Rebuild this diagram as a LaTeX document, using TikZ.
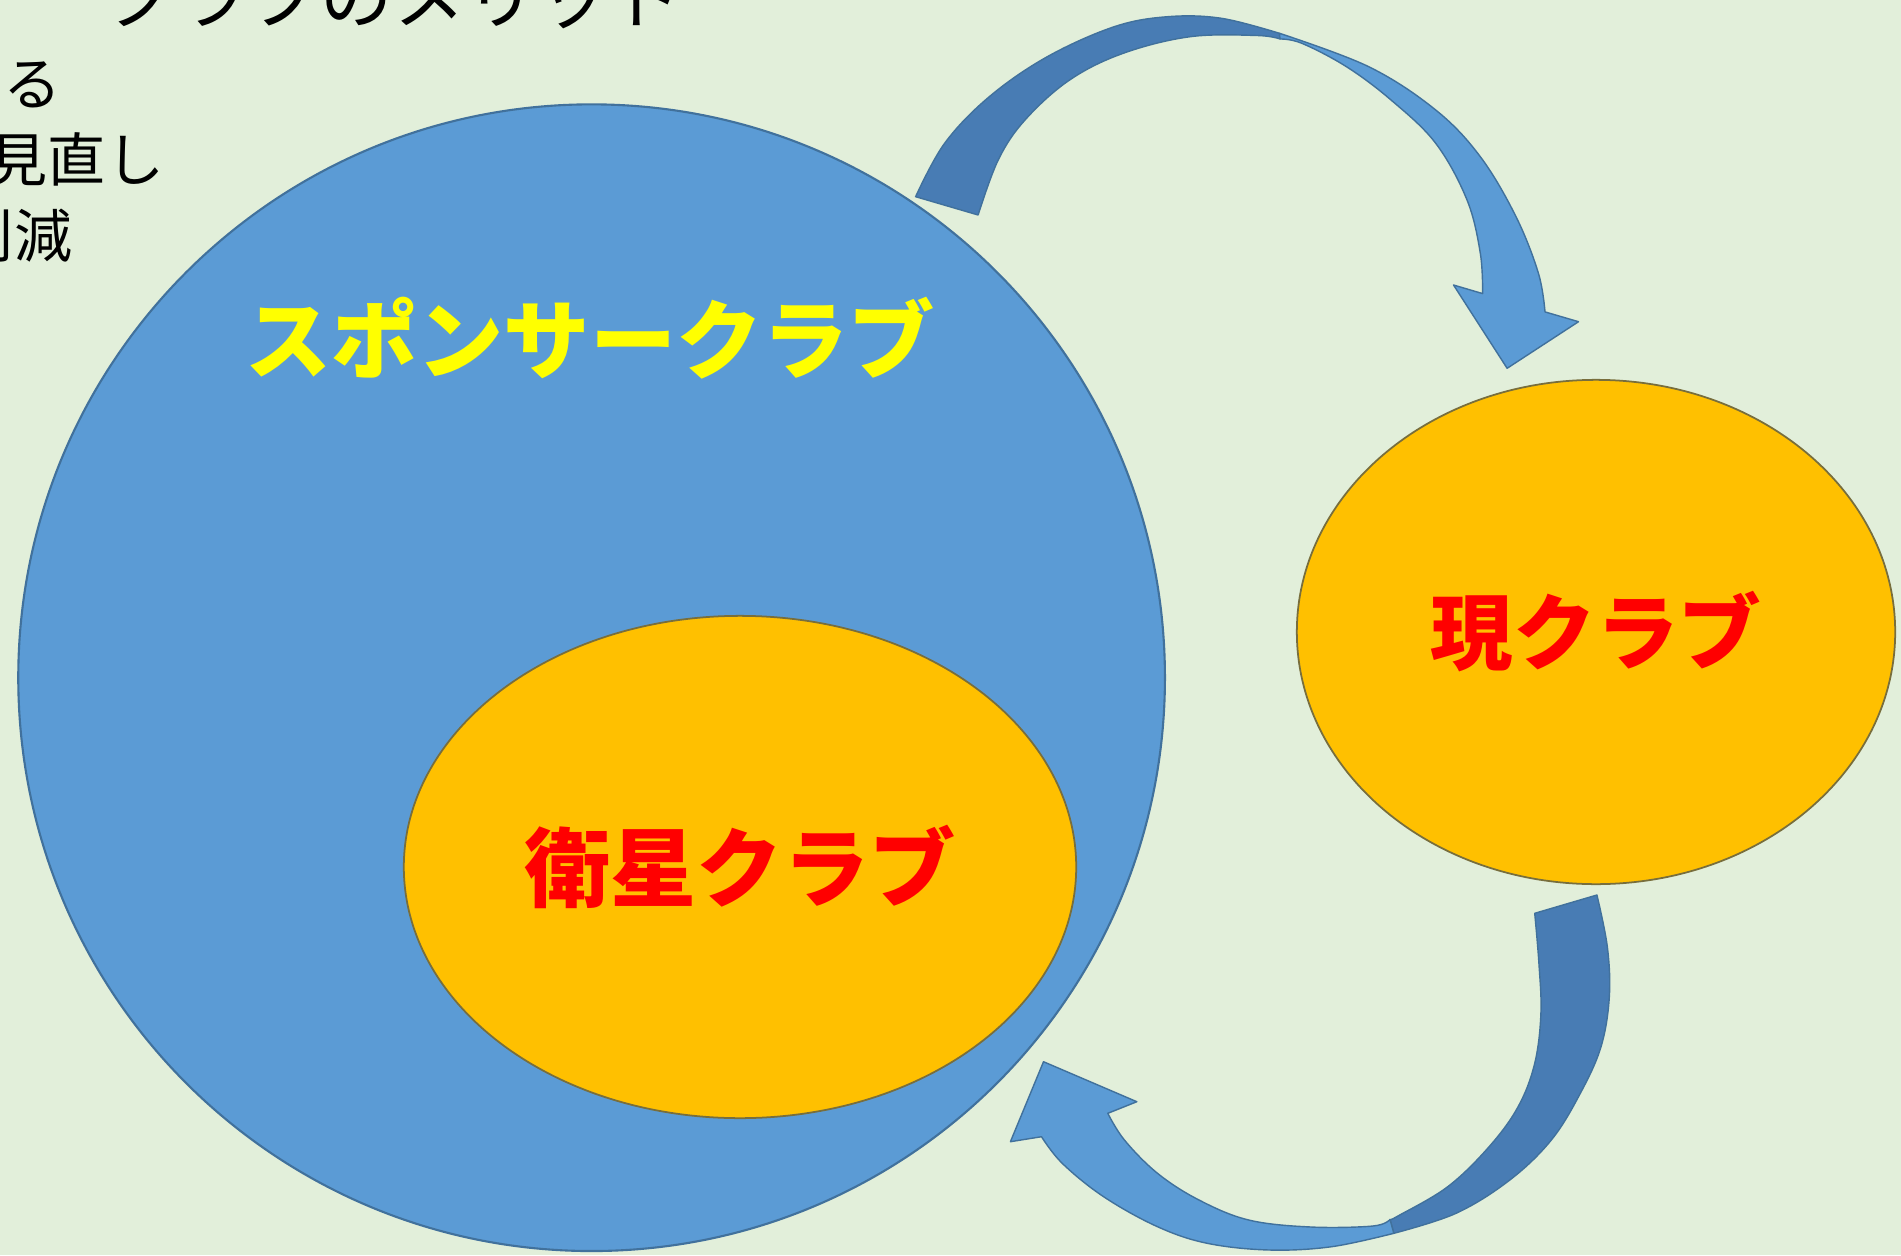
\documentclass[tikz,border=0pt]{standalone}
\usepackage{fontspec}
\newfontfamily\jp{Noto Sans CJK JP}
\usetikzlibrary{shapes.geometric}
\definecolor{bgc}{RGB}{226,239,218}
\definecolor{blueL}{RGB}{91,155,213}
\definecolor{blueD}{RGB}{72,124,180}
\definecolor{blueLine}{RGB}{65,113,156}
\definecolor{orangeF}{RGB}{255,192,0}
\definecolor{orangeLine}{RGB}{120,110,60}
\definecolor{yel}{RGB}{255,255,0}
\definecolor{redT}{RGB}{255,0,0}
\tikzset{
  bigcircle/.style={circle, fill=blueL, draw=blueLine, line width=0.6pt, inner sep=0pt},
  oval/.style={ellipse, fill=orangeF, draw=orangeLine, line width=0.5pt, inner sep=0pt, text=redT},
  bigfont/.style={font=\jp\bfseries\fontsize{24.5}{28}\selectfont},
  yellabel/.style={bigfont, text=yel, inner sep=0pt},
  plain/.style={font=\jp\fontsize{16.5}{20}\selectfont, text=black, inner sep=0pt, anchor=base},
  titletext/.style={font=\jp\fontsize{20.5}{24}\selectfont, text=black, inner sep=0pt, anchor=base},
  arrowD/.style={fill=blueD, draw=blueLine, line width=0.4pt, line join=round},
  arrowL/.style={fill=blueL, draw=blueLine, line width=0.4pt, line join=round}
}
\begin{document}
\begin{tikzpicture}[x=0.01cm, y=-0.01cm]
\useasboundingbox (0,0) rectangle (1901,1255);
\clip (0,0) rectangle (1901,1255);
\fill[bgc] (0,0) rectangle (1901,1255);

% title and left text (partially cut off)
\node[titletext] (title) at (393,24) {クラブのメリット};
\node[plain] (l1) at (33,106) {る};
\node[plain] (l2) at (77,182) {見直し};
\node[plain] (l3) at (14,258) {削減};

% big circle
\node[bigcircle, minimum size=11.46cm] (sponsor) at (591.6,677.7) {};
\node[yellabel] (sponsortext) at (590,338) {スポンサークラブ};

% satellite club
\node[oval, bigfont, minimum width=6.72cm, minimum height=5.02cm] (sat) at (740,867) {衛星クラブ};

% current club
\node[oval, font=\jp\bfseries\fontsize{23.5}{27}\selectfont, minimum width=5.98cm, minimum height=5.04cm] (cur) at (1596,632) {現クラブ};

% top arrow: dark part (tail at the sponsor club)
\path[arrowD] plot[smooth, tension=0.6] coordinates {(915.6,196.7) (944.6,143.3) (989.3,96.7) (1047.3,56.7) (1114.3,26.7) (1167.8,16.7) (1221.4,18.3) (1279.4,33.3)}
  -- plot[smooth, tension=0.6] coordinates {(1280,39) (1257,35.5) (1190.2,36.7) (1123.2,53.3) (1069.6,80) (1025,120) (998.2,160) (978.1,215)} -- cycle;
% top arrow: light part (head at the current club)
\path[arrowL] plot[smooth, tension=0.6] coordinates {(1279.4,33.3) (1368.7,66.7) (1435.7,110) (1480.3,156.7) (1516,216.7) (1538.4,273.3) (1545,311.9)}
  -- (1578.5,321.7) -- (1507.1,368.3) -- (1453.5,285) --
  plot[smooth, tension=0.6] coordinates {(1482.6,293.6) (1480.3,253.3) (1467,200) (1435.7,143.3) (1391,100) (1346.4,66.7) (1301.8,43.3) (1280,39)} -- cycle;

% bottom arrow: dark part (tail at the current club)
\path[arrowD] plot[smooth, tension=0.6] coordinates {(1596.9,895) (1607.3,946.7) (1609.3,996.7) (1601,1046.7) (1580.3,1093.3) (1551.3,1140) (1509.8,1180) (1456,1213.3) (1393.8,1233.3)}
  -- plot[smooth, tension=0.6] coordinates {(1390,1219.5) (1397.9,1216) (1447.7,1186.7) (1489.1,1146.7) (1518.1,1106.7) (1534.7,1063.3) (1540.9,1013.3) (1538.9,963.3) (1534.7,913.3)} -- cycle;
% bottom arrow: light part (head at the sponsor club)
\path[arrowL] plot[smooth, tension=0.6] coordinates {(1393.8,1233.3) (1331.6,1246.7) (1269.4,1250) (1207.3,1243.3) (1157.5,1226.7) (1103.6,1196.7) (1062.2,1163.3) (1041.5,1136.7)}
  -- (1010.4,1141.7) -- (1043.5,1061.7) -- (1136.8,1101.7) --
  plot[smooth, tension=0.6] coordinates {(1107.8,1113.3) (1124.4,1140) (1157.5,1173.3) (1199,1200) (1248.7,1220) (1310.9,1227) (1373,1226) (1390,1219.5)} -- cycle;
\end{tikzpicture}
\end{document}
